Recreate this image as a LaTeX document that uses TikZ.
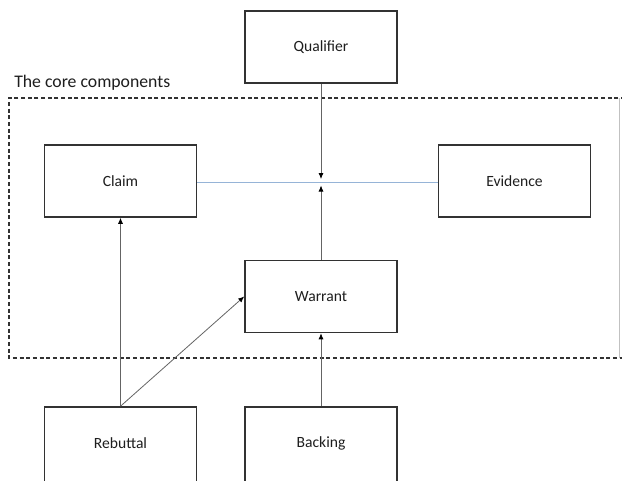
\documentclass[tikz,border=0pt]{standalone}
\usepackage{fontspec}
\setmainfont{Carlito}
\usetikzlibrary{arrows.meta}
\definecolor{boxline}{RGB}{50,50,50}
\definecolor{txt}{RGB}{30,30,30}
\definecolor{conn}{RGB}{100,100,100}
\definecolor{bluel}{RGB}{150,180,215}
\tikzset{
  compbox/.style={draw=boxline, line width=1.2pt, fill=white, minimum width=114pt, minimum height=54pt, inner sep=0pt, text=txt, font=\fontsize{11.7}{14}\selectfont},
  conarrow/.style={draw=conn, line width=0.6pt, -{Latex[length=4.5pt,width=3.8pt,color=black]}},
  frame/.style={draw=boxline, line width=0.9pt, dash pattern=on 3pt off 2pt},
}
\begin{document}
\begin{tikzpicture}[x=0.75pt,y=-0.75pt]
\clip (0,0) rectangle (622,480);
\fill[white] (0,0) rectangle (622,480);
% frame of the core components
\draw[frame] (625,98) -- (9,98) -- (9,358) -- (625,358);
\draw[draw=conn!40, line width=0.5pt] (619.5,98) -- (619.5,358);
\node[anchor=base west, text=txt, font=\fontsize{13.3}{16}\selectfont, inner sep=0pt] (title) at (14,87) {The core components};
% boxes
\node[compbox] (qualifier) at (321,47) {Qualifier};
\node[compbox] (claim) at (120.5,181) {Claim};
\node[compbox] (evidence) at (514.5,181) {Evidence};
\node[compbox] (warrant) at (321,296.5) {Warrant};
\node[compbox, minimum height=57pt] (rebuttal) at (120.5,445) {};
\node[compbox, minimum height=57pt] (backing) at (321,445) {};
\node[text=txt, font=\fontsize{11.7}{14}\selectfont] (rebuttallabel) at (120.5,443.5) {Rebuttal};
\node[text=txt, font=\fontsize{11.7}{14}\selectfont] (backinglabel) at (321,443.5) {Backing};
% connectors
\coordinate (qtip) at (321,179);
\coordinate (wtip) at (321,185.5);
\draw[draw=bluel, line width=0.6pt] (claim.east |- 0,182) -- (evidence.west |- 0,182);
\draw[conarrow] (qualifier.south) -- (qtip);
\draw[conarrow] (warrant.north) -- (wtip);
\draw[conarrow] (rebuttal.north) -- (claim.south);
\draw[conarrow] (rebuttal.north) -- (warrant.west);
\draw[conarrow] (backing.north) -- (warrant.south);
\end{tikzpicture}
\end{document}
